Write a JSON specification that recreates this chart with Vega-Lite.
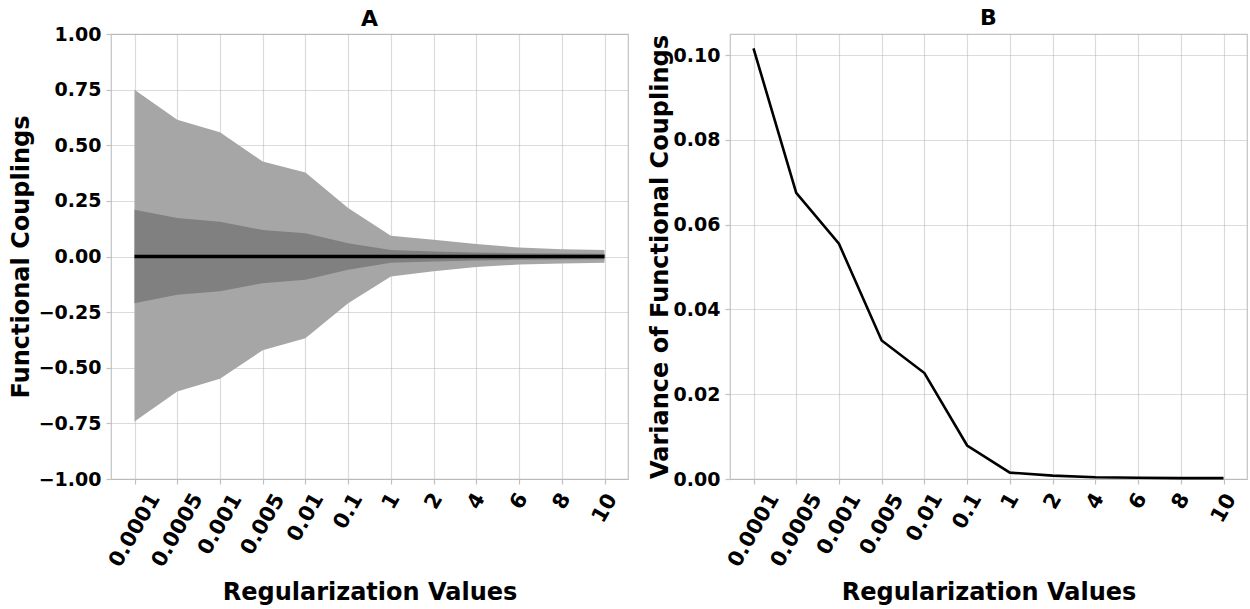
{
  "$schema": "https://vega.github.io/schema/vega-lite/v6.json",
  "background": "white",
  "padding": {"left": 8, "top": 6, "right": 0, "bottom": 0},
  "config": {
    "font": "DejaVu Sans",
    "view": {"stroke": "#c4c4c4", "strokeWidth": 1.2},
    "axis": {
      "labelFont": "DejaVu Sans",
      "labelFontWeight": "bold",
      "labelFontSize": 19,
      "labelColor": "black",
      "titleFont": "DejaVu Sans",
      "titleFontSize": 24,
      "titleFontWeight": "bold",
      "titleColor": "black",
      "domain": false,
      "tickColor": "#c0c0c0",
      "tickSize": 5,
      "tickWidth": 1.2,
      "grid": true,
      "gridColor": "#b0b0b0",
      "gridOpacity": 0.45,
      "gridWidth": 1.2,
      "zindex": 1
    },
    "title": {"font": "DejaVu Sans", "fontSize": 22, "fontWeight": "bold", "color": "black", "offset": 4, "frame": "group"},
    "concat": {"spacing": 18}
  },
  "datasets": {
    "d": [
      {"reg": "0.0001", "outer_lo": -0.742, "outer_hi": 0.750, "inner_lo": -0.210, "inner_hi": 0.210, "mean": 0, "var": 0.1016},
      {"reg": "0.0005", "outer_lo": -0.607, "outer_hi": 0.615, "inner_lo": -0.172, "inner_hi": 0.173, "mean": 0, "var": 0.0675},
      {"reg": "0.001", "outer_lo": -0.549, "outer_hi": 0.558, "inner_lo": -0.156, "inner_hi": 0.156, "mean": 0, "var": 0.0555},
      {"reg": "0.005", "outer_lo": -0.421, "outer_hi": 0.427, "inner_lo": -0.120, "inner_hi": 0.119, "mean": 0, "var": 0.0327},
      {"reg": "0.01", "outer_lo": -0.367, "outer_hi": 0.378, "inner_lo": -0.105, "inner_hi": 0.105, "mean": 0, "var": 0.0250},
      {"reg": "0.1", "outer_lo": -0.210, "outer_hi": 0.218, "inner_lo": -0.060, "inner_hi": 0.060, "mean": 0, "var": 0.0079},
      {"reg": "1", "outer_lo": -0.090, "outer_hi": 0.093, "inner_lo": -0.028, "inner_hi": 0.029, "mean": 0, "var": 0.0015},
      {"reg": "2", "outer_lo": -0.066, "outer_hi": 0.075, "inner_lo": -0.022, "inner_hi": 0.022, "mean": 0, "var": 0.0008},
      {"reg": "4", "outer_lo": -0.047, "outer_hi": 0.056, "inner_lo": -0.018, "inner_hi": 0.018, "mean": 0, "var": 0.0004},
      {"reg": "6", "outer_lo": -0.036, "outer_hi": 0.040, "inner_lo": -0.015, "inner_hi": 0.015, "mean": 0, "var": 0.0003},
      {"reg": "8", "outer_lo": -0.031, "outer_hi": 0.033, "inner_lo": -0.013, "inner_hi": 0.013, "mean": 0, "var": 0.0002},
      {"reg": "10", "outer_lo": -0.028, "outer_hi": 0.029, "inner_lo": -0.012, "inner_hi": 0.012, "mean": 0, "var": 0.0002}
    ]
  },
  "hconcat": [
    {
      "width": 517,
      "height": 445,
      "title": {"text": "A", "offset": -6},
      "data": {"name": "d"},
      "encoding": {
        "x": {
          "field": "reg",
          "type": "ordinal",
          "sort": null,
          "scale": {"type": "point", "padding": 0.55},
          "axis": {
            "title": "Regularization Values",
            "titleY": 120,
            "titleBaseline": "alphabetic",
            "labelAngle": -60,
            "labelFontSize": 21,
            "labelAlign": "center",
            "labelBaseline": "middle",
            "labelPadding": {"condition": [
              {"test": "length(datum.label) >= 6", "value": 46},
              {"test": "length(datum.label) == 5", "value": 40},
              {"test": "length(datum.label) == 4", "value": 33},
              {"test": "length(datum.label) == 3", "value": 27},
              {"test": "length(datum.label) == 2", "value": 24}
            ], "value": 17}
          }
        }
      },
      "layer": [
        {
          "mark": {"type": "area", "color": "#a6a6a6", "opacity": 1},
          "encoding": {
            "y": {"field": "outer_lo", "type": "quantitative", "title": "Functional Couplings",
              "scale": {"domain": [-1, 1], "nice": false},
              "axis": {"values": [-1, -0.75, -0.5, -0.25, 0, 0.25, 0.5, 0.75, 1], "format": ".2f", "labelPadding": 5,
                "titleX": -83, "titleY": 222.5, "titleBaseline": "alphabetic", "titleAlign": "center", "titleAngle": -90}},
            "y2": {"field": "outer_hi"}
          }
        },
        {
          "mark": {"type": "area", "color": "#808080", "opacity": 1},
          "encoding": {
            "y": {"field": "inner_lo", "type": "quantitative", "title": "Functional Couplings"},
            "y2": {"field": "inner_hi"}
          }
        },
        {
          "mark": {"type": "line", "color": "black", "strokeWidth": 3.5},
          "encoding": {
            "y": {"field": "mean", "type": "quantitative", "title": "Functional Couplings"}
          }
        }
      ]
    },
    {
      "width": 517,
      "height": 445,
      "title": "B",
      "data": {"name": "d"},
      "mark": {"type": "line", "color": "black", "strokeWidth": 2.6},
      "encoding": {
        "x": {
          "field": "reg",
          "type": "ordinal",
          "sort": null,
          "scale": {"type": "point", "padding": 0.55},
          "axis": {
            "title": "Regularization Values",
            "titleY": 120,
            "titleBaseline": "alphabetic",
            "labelAngle": -60,
            "labelFontSize": 21,
            "labelAlign": "center",
            "labelBaseline": "middle",
            "labelPadding": {"condition": [
              {"test": "length(datum.label) >= 6", "value": 46},
              {"test": "length(datum.label) == 5", "value": 40},
              {"test": "length(datum.label) == 4", "value": 33},
              {"test": "length(datum.label) == 3", "value": 27},
              {"test": "length(datum.label) == 2", "value": 24}
            ], "value": 17}
          }
        },
        "y": {
          "field": "var",
          "type": "quantitative",
          "title": "Variance of Functional Couplings",
          "scale": {"domain": [0, 0.105], "nice": false},
          "axis": {"values": [0, 0.02, 0.04, 0.06, 0.08, 0.1], "format": ".2f", "labelPadding": 5,
            "titleX": -63, "titleY": 222.5, "titleBaseline": "alphabetic", "titleAlign": "center", "titleAngle": -90}
        }
      }
    }
  ]
}
